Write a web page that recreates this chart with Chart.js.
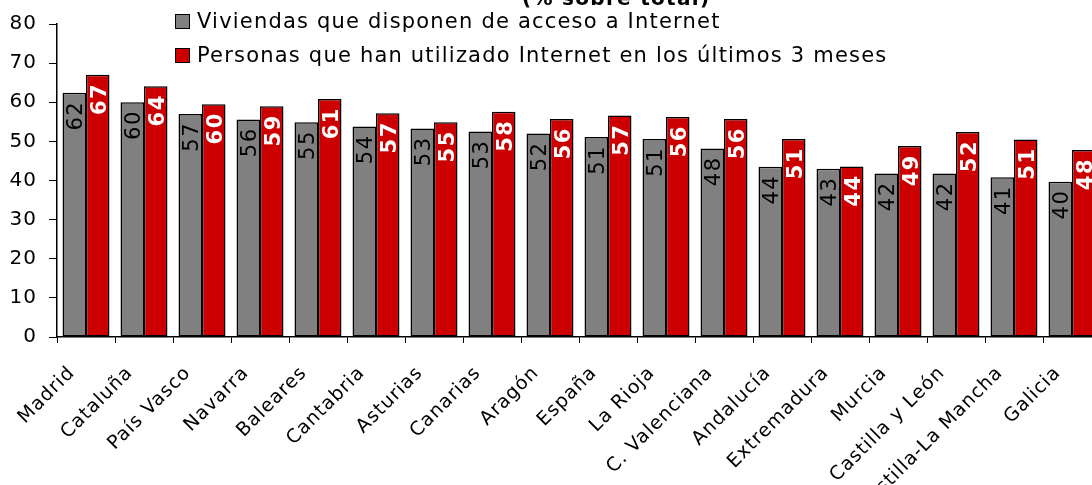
<!DOCTYPE html>
<html>
<head>
<meta charset="utf-8">
<script src="https://cdn.jsdelivr.net/npm/chart.js@4.4.1/dist/chart.umd.min.js"></script>
<style>
  html, body { margin: 0; padding: 0; background: #fff; overflow: hidden; width: 1092px; height: 485px; }
  #wrap { position: absolute; left: 0; top: 0; width: 1101px; height: 485px; }
  #title { position: absolute; left: 522px; top: -12px; font: bold 20px "DejaVu Sans"; line-height: 20px; letter-spacing: 1.3px; color: #000; white-space: nowrap; }
  #legend { position: absolute; left: 175px; top: 11px; font: 21px "DejaVu Sans"; letter-spacing: 1.2px; color: #000; }
  .item { position: relative; height: 34px; line-height: 21px; white-space: nowrap; }
  .box { position: absolute; left: 0; top: 3px; width: 13px; height: 13px; border: 1px solid #000; }
  .lbl { position: absolute; left: 22px; top: 0; }
</style>
</head>
<body>
<div id="wrap"><canvas id="c"></canvas></div>
<div id="title"></div>
<div id="legend"></div>
<script>
const titleText = '(% sobre total)';
const categories = ['Madrid','Cataluña','País Vasco','Navarra','Baleares','Cantabria','Asturias','Canarias','Aragón','España','La Rioja','C. Valenciana','Andalucía','Extremadura','Murcia','Castilla y León','Castilla-La Mancha','Galicia'];
const seriesNames = ['Viviendas que disponen de acceso a Internet','Personas que han utilizado Internet en los últimos 3 meses'];
const viviendas = [62.4, 60.0, 57.0, 55.6, 54.9, 53.8, 53.3, 52.5, 52.0, 51.1, 50.6, 48.2, 43.5, 43.0, 41.8, 41.8, 40.8, 39.7];
const personas = [67.0, 64.1, 59.5, 59.0, 60.8, 57.2, 54.9, 57.6, 55.7, 56.6, 56.2, 55.7, 50.6, 43.6, 48.8, 52.4, 50.5, 47.8];
const yTicks = [0, 10, 20, 30, 40, 50, 60, 70, 80];

const barColors = ['#808080', '#CC0000'];
const labelColors = ['#000000', '#FFFFFF'];
const labelWeights = ['normal', 'bold'];

document.getElementById('title').textContent = titleText;
const legendEl = document.getElementById('legend');
seriesNames.forEach((name, i) => {
  const it = document.createElement('div'); it.className = 'item';
  const b = document.createElement('span'); b.className = 'box'; b.style.background = barColors[i];
  const t = document.createElement('span'); t.className = 'lbl'; t.textContent = name;
  it.appendChild(b); it.appendChild(t); legendEl.appendChild(it);
});

const spacingPlugin = {
  id: 'spacing',
  beforeUpdate(chart) { chart.ctx.letterSpacing = '1px'; },
  beforeDraw(chart) { chart.ctx.letterSpacing = '1px'; }
};

const valueLabels = {
  id: 'valueLabels',
  afterDatasetsDraw(chart) {
    const ctx = chart.ctx;
    chart.data.datasets.forEach((ds, di) => {
      const meta = chart.getDatasetMeta(di);
      meta.data.forEach((el, i) => {
        const v = ds.data[i];
        ctx.save();
        ctx.letterSpacing = '1.5px';
        ctx.translate(el.x + 2.5, el.y + 8);
        ctx.rotate(-Math.PI / 2);
        ctx.font = labelWeights[di] + ' 21px "DejaVu Sans"';
        ctx.fillStyle = labelColors[di];
        ctx.textAlign = 'right';
        ctx.textBaseline = 'middle';
        ctx.fillText(String(Math.round(v)), 0, 0);
        ctx.restore();
      });
    });
  }
};

new Chart(document.getElementById('c'), {
  type: 'bar',
  data: {
    labels: categories,
    datasets: [
      { label: seriesNames[0], data: viviendas, backgroundColor: barColors[0], borderColor: '#000', borderWidth: 1.5, borderSkipped: false, categoryPercentage: 0.81, barPercentage: 1.0 },
      { label: seriesNames[1], data: personas, backgroundColor: barColors[1], borderColor: '#000', borderWidth: 1.5, borderSkipped: false, categoryPercentage: 0.81, barPercentage: 1.0 }
    ]
  },
  options: {
    responsive: true,
    maintainAspectRatio: false,
    animation: false,
    layout: { padding: { top: 21, right: 0, left: 0, bottom: 0 } },
    plugins: { legend: { display: false }, tooltip: { enabled: false }, title: { display: false } },
    scales: {
      x: {
        grid: { display: true, drawOnChartArea: false, drawTicks: true, tickLength: 6, color: '#000', lineWidth: 1 },
        border: { display: true, color: '#000', width: 1.5 },
        ticks: { color: '#000', font: { family: 'DejaVu Sans', size: 19 }, maxRotation: 45, minRotation: 45, autoSkip: false, padding: 19, labelOffset: -14 },
        afterFit(scale) { scale.height = 148; scale.paddingLeft = 0; scale.paddingRight = 0; }
      },
      y: {
        min: 0, max: 80,
        afterBuildTicks(scale) { scale.ticks = yTicks.map(v => ({ value: v })); },
        grid: { display: true, drawOnChartArea: false, drawTicks: true, tickLength: 8, color: '#000', lineWidth: 1 },
        border: { display: true, color: '#000', width: 1.5 },
        ticks: { color: '#000', font: { family: 'DejaVu Sans', size: 20 }, padding: 12 },
        afterFit(scale) { scale.width = 57; }
      }
    }
  },
  plugins: [spacingPlugin, valueLabels]
});
</script>
</body>
</html>
